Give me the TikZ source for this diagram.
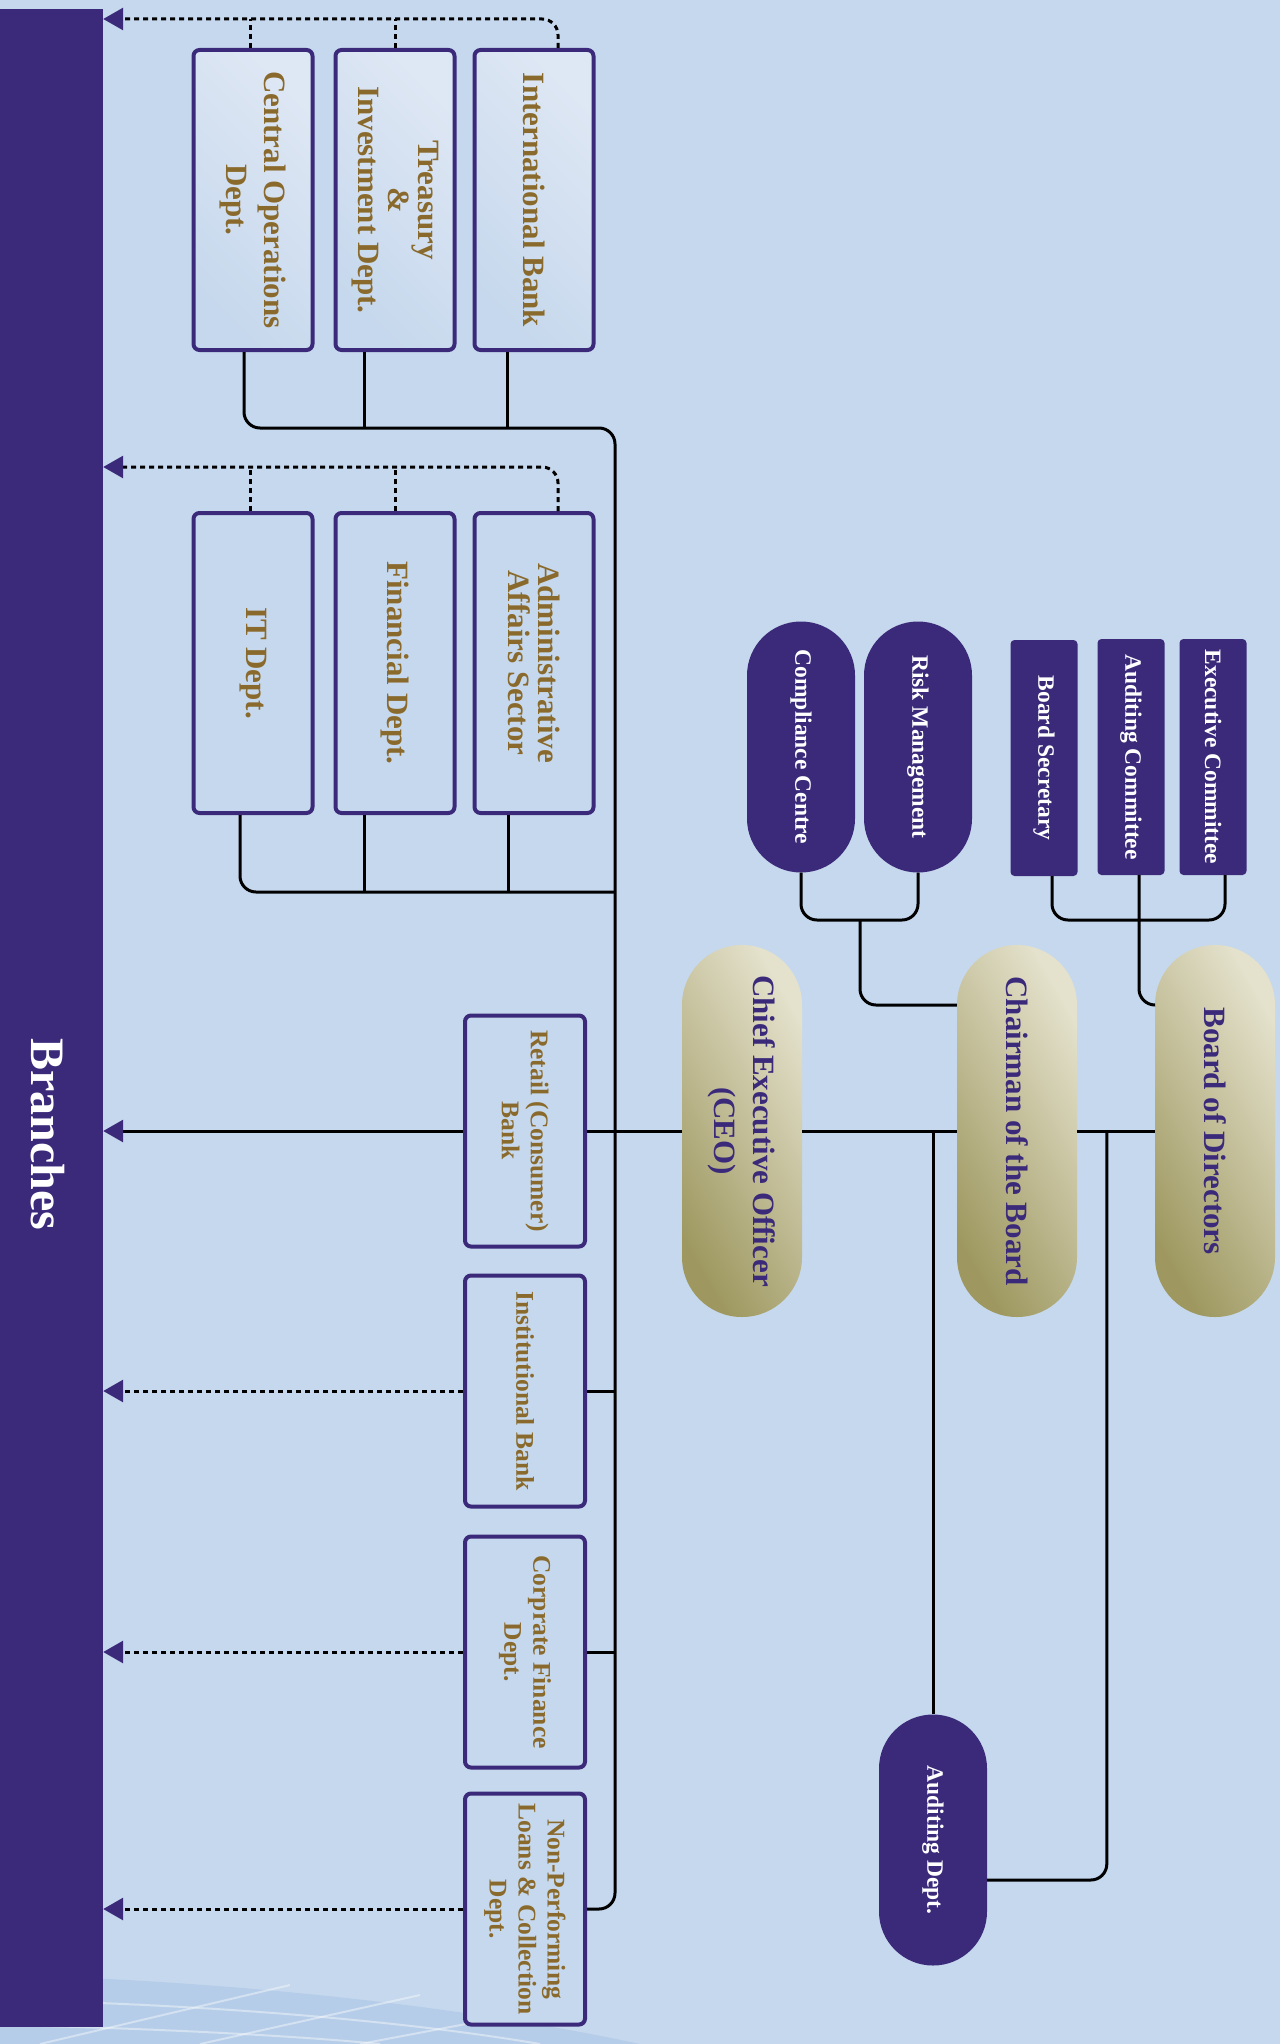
\documentclass[tikz,border=0pt]{standalone}
\usepackage{fontspec}
\setmainfont{Liberation Serif}
\usetikzlibrary{arrows.meta,calc}
\definecolor{paper}{RGB}{198,216,237}
\definecolor{ripple}{RGB}{182,205,233}
\definecolor{ink}{RGB}{59,42,122}
\definecolor{ochre}{RGB}{138,106,44}
\definecolor{goldhi}{RGB}{228,225,204}
\definecolor{goldlo}{RGB}{158,152,96}
\definecolor{boxhi}{RGB}{222,231,244}
\tikzset{
	dept/.style = {rectangle, draw = ink, line width = 4pt, rounded corners = 6pt, fill = paper, text = ochre, align = center, rotate = -90, minimum width = 300pt, minimum height = 119pt, inner sep = 0pt, font = \bfseries\fontsize{31}{30}\selectfont},
	lightdept/.style = {dept, top color = boxhi, bottom color = paper, shading angle = -45},
	branchdept/.style = {dept, minimum width = 231pt, minimum height = 120pt, font = \bfseries\fontsize{25.5}{29}\selectfont},
	chief/.style = {rectangle, rounded corners = 59.9pt, top color = goldhi, bottom color = goldlo, shading angle = -60, text = ink, align = center, rotate = -90, minimum width = 372pt, minimum height = 120pt, inner sep = 0pt, font = \bfseries\fontsize{31}{39}\selectfont},
	unit/.style = {rectangle, rounded corners = 53.9pt, fill = ink, text = white, rotate = -90, minimum width = 251pt, minimum height = 108pt, inner sep = 0pt, font = \bfseries\fontsize{23.5}{26}\selectfont},
	committee/.style = {rectangle, rounded corners = 4pt, fill = ink, text = white, rotate = -90, minimum width = 236pt, minimum height = 67pt, inner sep = 0pt, font = \bfseries\fontsize{23.5}{26}\selectfont},
	link/.style = {line width = 3pt, rounded corners = 16pt},
	tip/.style = {-{Triangle[length = 20pt, width = 22pt, color = ink]}},
	feed/.style = {line width = 3pt, dash pattern = on 5pt off 4pt, rounded corners = 16pt},
}
\begin{document}
\begin{tikzpicture}[x = 1pt, y = -1pt]
	\useasboundingbox ( 0, 0 ) rectangle ( 1280, 2044 );
	\fill [paper] ( 0, 0 ) rectangle ( 1280, 2044 );
	\fill [ripple] ( 0, 1975 ) .. controls ( 220, 1980 ) and ( 460, 2005 ) .. ( 640, 2044 ) -- ( 0, 2044 ) -- cycle;
	\draw [white, opacity = 0.4, line width = 2pt] ( 0, 2000 ) .. controls ( 200, 2004 ) and ( 400, 2020 ) .. ( 540, 2044 );
	\draw [white, opacity = 0.4, line width = 2pt] ( 0, 2025 ) .. controls ( 150, 2028 ) and ( 300, 2036 ) .. ( 380, 2044 );
	\draw [white, opacity = 0.4, line width = 2pt] ( 40, 2044 ) -- ( 290, 1985 );
	\draw [white, opacity = 0.4, line width = 2pt] ( 200, 2044 ) -- ( 420, 1995 );
	\draw [white, opacity = 0.4, line width = 2pt] ( 360, 2044 ) -- ( 540, 2010 );

	\node [rectangle, fill = ink, minimum width = 103pt, minimum height = 2018pt, inner sep = 0pt] (bar) at ( 51.5, 1018 ) {};
	\node [rotate = -90, text = white, font = \bfseries\fontsize{48}{48}\selectfont] (branches) at ( 48, 1134 ) {Branches};

	\node [lightdept] (cod) at ( 253, 200 ) {Central Operations\\[8pt]Dept.};
	\node [lightdept] (tid) at ( 395, 200 ) {Treasury\\\&\\Investment Dept.};
	\node [lightdept] (intl) at ( 534, 200 ) {International Bank};
	\node [dept] (itd) at ( 253, 663 ) {IT Dept.};
	\node [dept] (fin) at ( 395, 663 ) {Financial Dept.};
	\node [dept] (adm) at ( 534, 663 ) {Administrative\\Affairs Sector};
	\node [branchdept] (retail) at ( 525, 1131 ) {Retail (Consumer)\\Bank};
	\node [branchdept] (inst) at ( 525, 1391 ) {Institutional Bank};
	\node [branchdept] (corp) at ( 525, 1652 ) {Corprate Finance\\Dept.};
	\node [branchdept] (npl) at ( 525, 1909 ) {Non-Performing\\Loans \& Collection\\Dept.};

	\node [chief] (ceo) at ( 742, 1131 ) {Chief Executive Officer\\(CEO)};
	\node [chief] (chair) at ( 1017, 1131 ) {Chairman of the Board};
	\node [chief] (bod) at ( 1215, 1131 ) {Board of Directors};
	\node [unit] (comp) at ( 801, 747 ) {Compliance Centre};
	\node [unit] (risk) at ( 918, 747 ) {Risk Management};
	\node [unit] (aud) at ( 933, 1840 ) {Auditing Dept.};
	\node [committee] (bsec) at ( 1044, 758 ) {Board Secretary};
	\node [committee] (acom) at ( 1131, 757 ) {Auditing Committee};
	\node [committee] (ecom) at ( 1213, 757 ) {Executive Committee};

	\coordinate (upperjoin) at ( 615, 428 );
	\coordinate (middlejoin) at ( 615, 892 );
	\coordinate (topline) at ( 0, 19 );
	\coordinate (midline) at ( 0, 467 );
	\coordinate (boardline) at ( 0, 1005 );
	\coordinate (riskjoin) at ( 860, 920 );
	\coordinate (boardjoin) at ( 1139, 920 );

	\draw [link] ($(cod.east) + (-9, 0)$) |- (upperjoin) |- (npl.north);
	\draw [link] ($(tid.east) + (-31, 0)$) -- ( 364, 428 );
	\draw [link] ($(intl.east) + (-27, 0)$) -- ( 507, 428 );
	\draw [link] ($(itd.east) + (-13, 0)$) |- (middlejoin);
	\draw [link] ($(fin.east) + (-31, 0)$) -- ( 364, 892 );
	\draw [link] ($(adm.east) + (-26, 0)$) -- ( 508, 892 );
	\draw [link] (inst.north) -- (inst.north -| upperjoin);
	\draw [link] (corp.north) -- (corp.north -| upperjoin);

	\draw [link] (bod.south) -- (chair.north);
	\draw [link] (chair.south) -- (ceo.north);
	\draw [link] (ceo.south) -- (retail.north);
	\draw [link, tip] (retail.south) -- (bar.east |- retail.south);

	\draw [link] (comp.east) |- (riskjoin) -| (risk.east);
	\draw [link] (riskjoin) |- (chair.south |- boardline);
	\draw [link] ($(bsec.east) + (8, 0)$) |- (boardjoin) -| ($(ecom.east) + (12, 0)$);
	\draw [link] ($(acom.east) + (8, 0)$) |- (bod.south |- boardline);
	\draw [link] (aud.west |- bod.south) -- (aud.west);
	\draw [link] ($(bod.south) + (-48, 0)$) |- ($(aud.north) + (0, 40)$);

	\draw [feed, tip] ($(intl.west) + (24, 0)$) |- (bar.east |- topline);
	\draw [feed] (tid.west) -- (tid.west |- topline);
	\draw [feed] ($(cod.west) + (-3, 0)$) -- ( 250, 19 );
	\draw [feed, tip] ($(adm.west) + (24, 0)$) |- (bar.east |- midline);
	\draw [feed] (fin.west) -- (fin.west |- midline);
	\draw [feed] ($(itd.west) + (-3, 0)$) -- ( 250, 467 );
	\draw [feed, tip] (inst.south) -- (bar.east |- inst.south);
	\draw [feed, tip] (corp.south) -- (bar.east |- corp.south);
	\draw [feed, tip] (npl.south) -- (bar.east |- npl.south);
\end{tikzpicture}
\end{document}
